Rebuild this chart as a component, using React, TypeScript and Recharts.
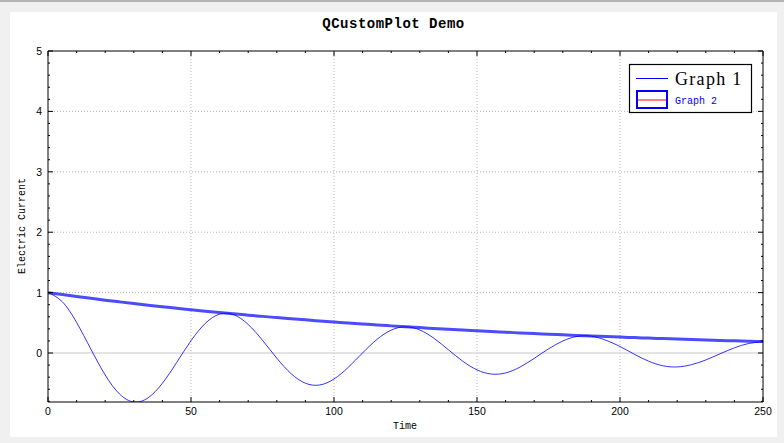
import React from "react"
import { LineChart, Line, XAxis, YAxis, ReferenceLine } from "recharts"

// sampled every 5 time units
const timeValues = [
  0, 5, 10, 15, 20, 25, 30, 35, 40, 45, 50, 55, 60, 65, 70, 75, 80, 85, 90, 95,
  100, 105, 110, 115, 120, 125, 130, 135, 140, 145, 150, 155, 160, 165, 170, 175,
  180, 185, 190, 195, 200, 205, 210, 215, 220, 225, 230, 235, 240, 245, 250,
]

// damped oscillation (thin line)
const graph1 = [
  1.0, 0.8488, 0.5055, 0.064, -0.3642, -0.6781, -0.8105, -0.7416, -0.5006, -0.1562,
  0.2033, 0.4911, 0.6436, 0.6331, 0.4728, 0.2102, -0.0854, -0.3416, -0.5, -0.5293,
  -0.4308, -0.2361, 0.0021, 0.2245, 0.3792, 0.4336, 0.3815, 0.2419, 0.0538, -0.135,
  -0.2795, -0.3482, -0.3296, -0.2338, -0.0886, 0.0683, 0.1989, 0.2751, 0.2786, 0.2132,
  0.1076, -0.0203, -0.1351, -0.2113, -0.2307, -0.1929, -0.115, -0.0129, 0.0856, 0.1575,
  0.1872,
]

// envelope (thick line)
const graph2 = [
  1.0, 0.9672, 0.9355, 0.9048, 0.8752, 0.8465, 0.8187, 0.7919, 0.7659, 0.7408,
  0.7165, 0.693, 0.6703, 0.6483, 0.6271, 0.6065, 0.5866, 0.5674, 0.5488, 0.5308,
  0.5134, 0.4966, 0.4803, 0.4646, 0.4493, 0.4346, 0.4204, 0.4066, 0.3932, 0.3803,
  0.3679, 0.3558, 0.3442, 0.3329, 0.322, 0.3114, 0.3012, 0.2913, 0.2818, 0.2725,
  0.2636, 0.255, 0.2466, 0.2385, 0.2307, 0.2231, 0.2158, 0.2087, 0.2019, 0.1953,
  0.1889,
]

const xTicks = [
  0, 10, 20, 30, 40, 50, 60, 70, 80, 90, 100, 110, 120, 130, 140, 150, 160, 170,
  180, 190, 200, 210, 220, 230, 240, 250,
]
const yTicks = [
  -0.8, -0.6, -0.4, -0.2, 0, 0.2, 0.4, 0.6, 0.8, 1, 1.2, 1.4, 1.6, 1.8, 2, 2.2, 2.4,
  2.6, 2.8, 3, 3.2, 3.4, 3.6, 3.8, 4, 4.2, 4.4, 4.6, 4.8, 5,
]
const xGrid = [50, 100, 150, 200]
const yGrid = [1, 2, 3, 4]

const data = timeValues.map((t, i) => ({ t, g1: graph1[i], g2: graph2[i] }))

const tickFont = { fontFamily: "Liberation Sans", fontSize: 10.5, fill: "#000" }
const monoFont = "Liberation Mono"

const isMajorX = (v: number) => v % 50 === 0
const isMajorY = (v: number) => Math.abs(v - Math.round(v)) < 1e-6

// axes are 1px thick so recharts still renders them; x/y below are the axis line
function BottomTick({ x, y, payload }: any) {
  const major = isMajorX(payload.value)
  return (
    <g>
      <line x1={x} y1={y} x2={x} y2={y - (major ? 5 : 2)} stroke="#000" />
      {major && (
        <text x={x} y={y + 13} textAnchor="middle" {...tickFont}>
          {payload.value}
        </text>
      )}
    </g>
  )
}

function TopTick({ x, y, payload }: any) {
  const major = isMajorX(payload.value)
  return <line x1={x} y1={y} x2={x} y2={y + (major ? 5 : 2)} stroke="#000" />
}

function LeftTick({ x, y, payload }: any) {
  const major = isMajorY(payload.value)
  return (
    <g>
      <line x1={x} y1={y} x2={x + (major ? 5 : 2)} y2={y} stroke="#000" />
      {major && (
        <text x={x - 6} y={y + 4} textAnchor="end" {...tickFont}>
          {Math.round(payload.value)}
        </text>
      )}
    </g>
  )
}

function RightTick({ x, y, payload }: any) {
  const major = isMajorY(payload.value)
  return <line x1={x} y1={y} x2={x - (major ? 5 : 2)} y2={y} stroke="#000" />
}

export default function App() {
  return (
    <div
      style={{
        position: "absolute",
        left: 0,
        top: 0,
        width: 784,
        height: 443,
        background: "#f0f0f0",
        overflow: "hidden",
      }}
    >
      <div style={{ position: "absolute", left: 0, top: 0, width: 784, height: 2, background: "#b4b4b4" }} />
      <div style={{ position: "absolute", left: 10, top: 12, width: 767, height: 425, background: "#fff" }} />
      <div style={{ position: "absolute", left: 0, top: 0 }}>
        <LineChart
          width={784}
          height={443}
          data={data}
          margin={{ top: 50, right: 20, bottom: 40, left: 47 }}
        >
          <XAxis
            xAxisId="b"
            dataKey="t"
            type="number"
            domain={[0, 250]}
            ticks={xTicks}
            interval={0}
            height={1}
            tickSize={0}
            tickMargin={0}
            tickLine={false}
            axisLine={{ stroke: "#000", strokeWidth: 1 }}
            tick={<BottomTick />}
            allowDataOverflow
          />
          <XAxis
            xAxisId="t"
            orientation="top"
            dataKey="t"
            type="number"
            domain={[0, 250]}
            ticks={xTicks}
            interval={0}
            height={1}
            tickSize={0}
            tickMargin={0}
            tickLine={false}
            axisLine={{ stroke: "#000", strokeWidth: 1 }}
            tick={<TopTick />}
            allowDataOverflow
          />
          <YAxis
            yAxisId="l"
            type="number"
            domain={[-0.811, 5]}
            ticks={yTicks}
            interval={0}
            width={1}
            tickSize={0}
            tickMargin={0}
            tickLine={false}
            axisLine={{ stroke: "#000", strokeWidth: 1 }}
            tick={<LeftTick />}
            allowDataOverflow
          />
          <YAxis
            yAxisId="r"
            orientation="right"
            type="number"
            domain={[-0.811, 5]}
            ticks={yTicks}
            interval={0}
            width={1}
            tickSize={0}
            tickMargin={0}
            tickLine={false}
            axisLine={{ stroke: "#000", strokeWidth: 1 }}
            tick={<RightTick />}
            allowDataOverflow
          />
          {xGrid.map((v) => (
            <ReferenceLine key={"x" + v} xAxisId="b" yAxisId="l" x={v} stroke="#b8b8b8" strokeDasharray="1 2" />
          ))}
          {yGrid.map((v) => (
            <ReferenceLine key={"y" + v} xAxisId="b" yAxisId="l" y={v} stroke="#b8b8b8" strokeDasharray="1 2" />
          ))}
          <ReferenceLine xAxisId="b" yAxisId="l" y={0} stroke="#c8c8c8" />
          <Line
            xAxisId="b"
            yAxisId="l"
            type="natural"
            dataKey="g1"
            stroke="#0000ff"
            strokeOpacity={0.8}
            strokeWidth={1}
            dot={false}
            activeDot={false}
            isAnimationActive={false}
          />
          <Line
            xAxisId="b"
            yAxisId="l"
            type="natural"
            dataKey="g2"
            stroke="#0000ff"
            strokeOpacity={0.7}
            strokeWidth={3}
            dot={false}
            activeDot={false}
            isAnimationActive={false}
          />
        </LineChart>
      </div>
      <svg
        width={784}
        height={443}
        style={{ position: "absolute", left: 0, top: 0, pointerEvents: "none" }}
      >
        <text
          x={393.5}
          y={28}
          textAnchor="middle"
          fontFamily={monoFont}
          fontWeight="bold"
          fontSize={14}
          letterSpacing={0.5}
          fill="#000"
        >
          QCustomPlot Demo
        </text>
        <text x={405} y={429} textAnchor="middle" fontFamily={monoFont} fontSize={10} fill="#000">
          Time
        </text>
        <text
          x={25}
          y={226}
          textAnchor="middle"
          fontFamily={monoFont}
          fontSize={10}
          fill="#000"
          transform="rotate(-90 25 226)"
        >
          Electric Current
        </text>
        {/* legend */}
        <rect x={629.5} y={64.5} width={122} height={48} fill="#fff" stroke="#000" strokeWidth={1.2} />
        <line x1={636} y1={78.5} x2={668} y2={78.5} stroke="#0000ff" />
        <text x={675} y={85} fontFamily="Liberation Serif" fontSize={18} letterSpacing={1.3} fill="#000">
          Graph 1
        </text>
        <rect x={637} y={91} width={30} height={17} fill="none" stroke="#0000ff" strokeWidth={2} />
        <line x1={638} y1={100} x2={666} y2={100} stroke="#ff0000" />
        <text x={675} y={103.5} fontFamily={monoFont} fontSize={10} fill="#0000ff">
          Graph 2
        </text>
      </svg>
    </div>
  )
}
